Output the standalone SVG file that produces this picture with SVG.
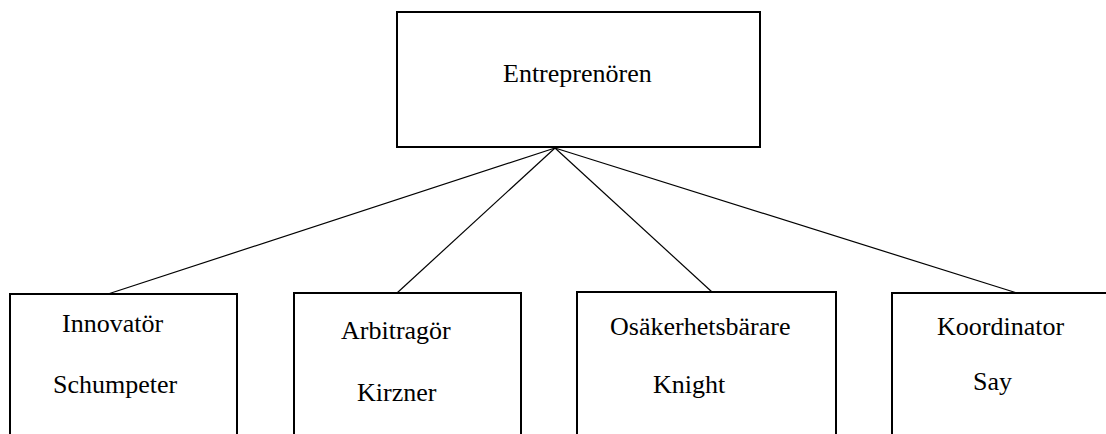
<svg xmlns="http://www.w3.org/2000/svg" width="1106" height="434" viewBox="0 0 1106 434">
<style>
.box{fill:#fff;stroke:#000;stroke-width:2}
.t{font-family:"Liberation Serif","Times New Roman",serif;font-size:26px;fill:#000}
.c{stroke:#000;stroke-width:1.2;fill:none}
</style>
<rect width="1106" height="434" fill="#fff"/>
<g id="node-top">
<rect class="box" x="397" y="12" width="363" height="135"/>
<text class="t" x="503" y="82">Entreprenören</text>
</g>
<g id="node-innovator">
<rect class="box" x="10" y="294" width="227" height="160"/>
<text class="t" x="62" y="332">Innovatör</text>
<text class="t" x="53" y="393">Schumpeter</text>
</g>
<g id="node-arbitragor">
<rect class="box" x="294" y="293" width="227" height="160"/>
<text class="t" x="341" y="339">Arbitragör</text>
<text class="t" x="357" y="401">Kirzner</text>
</g>
<g id="node-osakerhet">
<rect class="box" x="577" y="292" width="259" height="160"/>
<text class="t" x="610" y="335">Osäkerhetsbärare</text>
<text class="t" x="653" y="393">Knight</text>
</g>
<g id="node-koordinator">
<rect class="box" x="892" y="293" width="260" height="160"/>
<text class="t" x="937" y="335">Koordinator</text>
<text class="t" x="973" y="390">Say</text>
</g>
<g id="connectors">
<line class="c" x1="555" y1="148" x2="108" y2="294"/>
<line class="c" x1="555" y1="148" x2="397" y2="293"/>
<line class="c" x1="555" y1="148" x2="712" y2="292"/>
<line class="c" x1="555" y1="148" x2="1017" y2="293"/>
</g>
</svg>
